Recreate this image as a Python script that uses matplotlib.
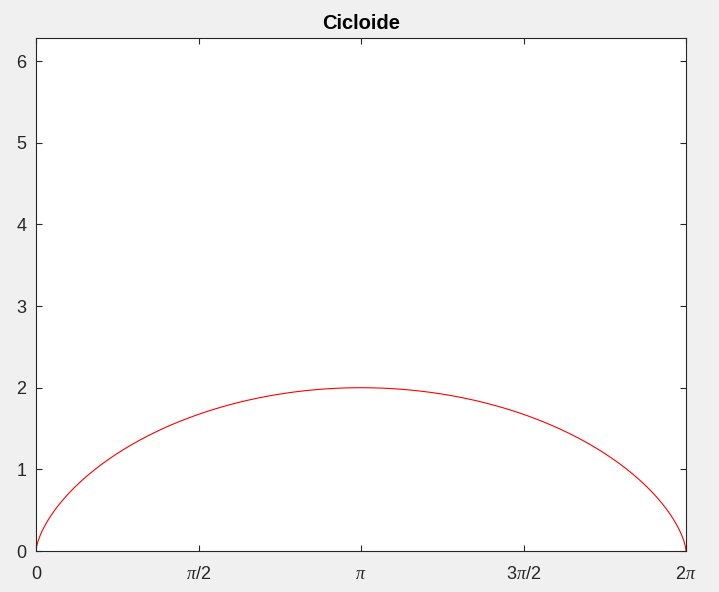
import numpy as np
import matplotlib
matplotlib.use("Agg")
import matplotlib.pyplot as plt

plt.rcParams['font.family'] = ['Liberation Sans', 'DejaVu Sans']
plt.rcParams['mathtext.fontset'] = 'custom'
plt.rcParams['mathtext.rm'] = 'Liberation Sans'
plt.rcParams['mathtext.it'] = 'Liberation Serif:italic'

# Cycloid parameters (radius 1, one arch)
radius = 1.0
t = np.linspace(0, 2 * np.pi, 400)
x = radius * (t - np.sin(t))
y = radius * (1 - np.cos(t))

xtick_values = [0, np.pi / 2, np.pi, 3 * np.pi / 2, 2 * np.pi]
xtick_labels = ['0', r'$\pi$/2', r'$\pi$', r'3$\pi$/2', r'2$\pi$']
ytick_values = [0, 1, 2, 3, 4, 5, 6]

fig = plt.figure(figsize=(7.19, 5.92), dpi=100, facecolor='#f0f0f0')
ax = fig.add_axes([36 / 719, 41 / 592, 650 / 719, 513 / 592])
ax.plot(x, y, color='red', linewidth=0.8)
ax.set_xlim(0, 2 * np.pi)
ax.set_ylim(0, 2 * np.pi)
ax.set_xticks(xtick_values)
ax.set_xticklabels(xtick_labels)
ax.set_yticks(ytick_values)
ax.tick_params(direction='in', length=4.5, width=0.8, color='#262626',
               labelsize=13, labelcolor='#262626', top=True, right=True)
ax.tick_params(axis='x', pad=11)
ax.tick_params(axis='y', pad=7)
for s in ax.spines.values():
    s.set_color('#262626')
    s.set_linewidth(0.8)
ax.set_title('Cicloide', fontsize=14.5, fontweight='bold', pad=6.5)
fig.savefig('out.png', dpi=100, facecolor=fig.get_facecolor())
